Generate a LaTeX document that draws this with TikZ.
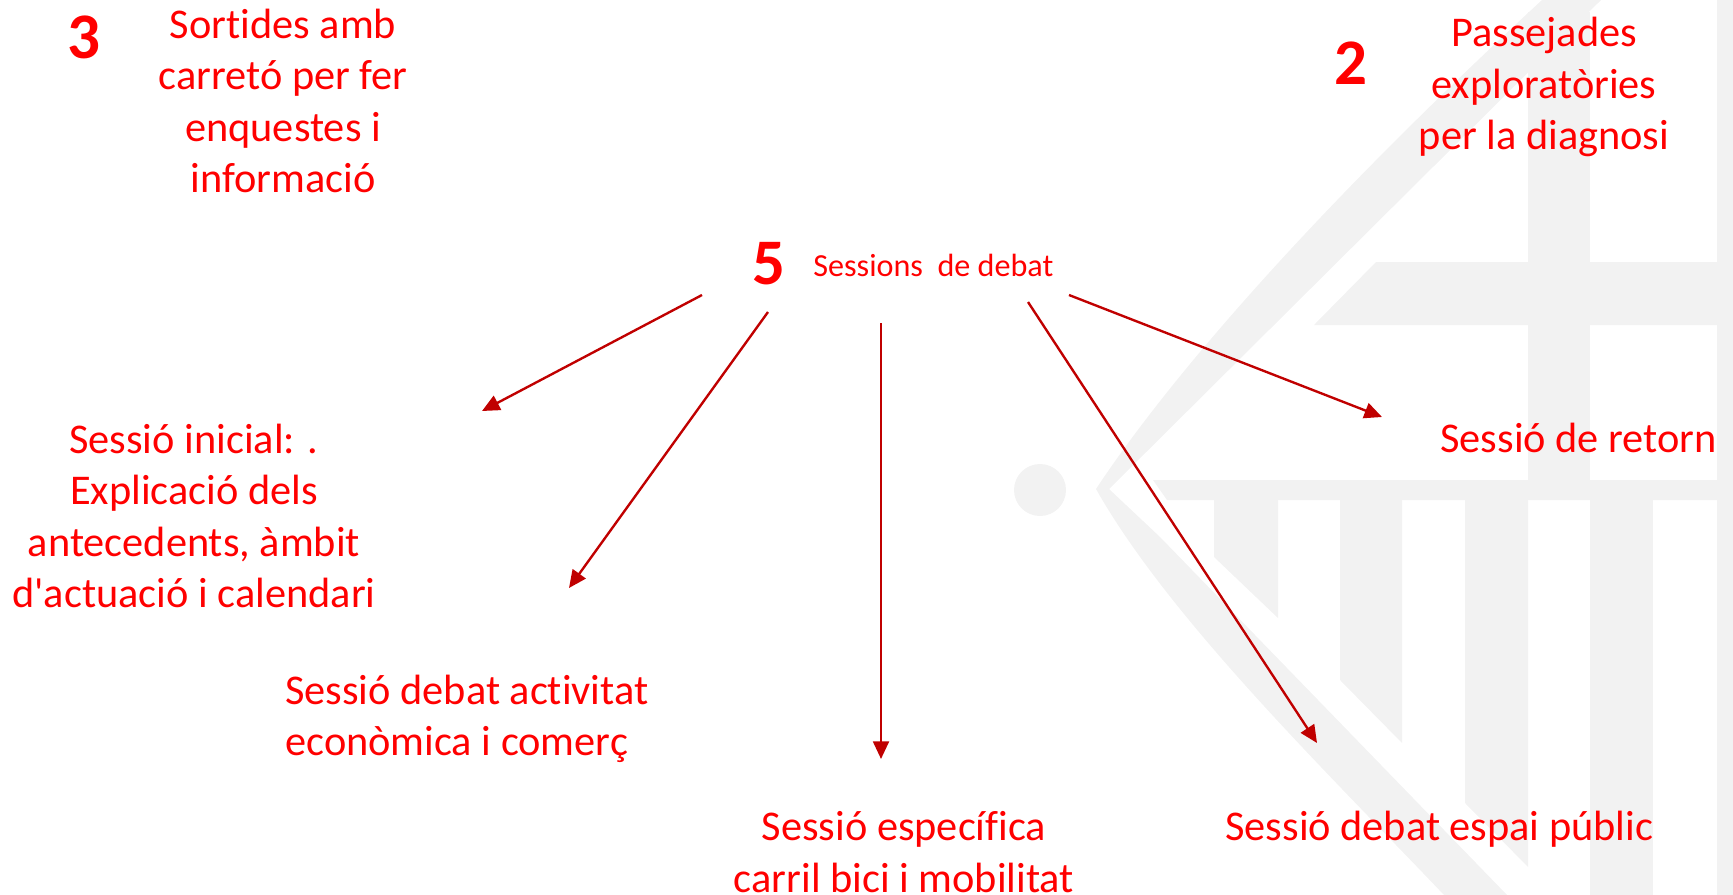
\documentclass[tikz,border=0pt]{standalone}
\usepackage{xcolor}
\usepackage{fontspec}
\newfontfamily\carlito{Carlito}[Ligatures=NoCommon]
\usetikzlibrary{arrows.meta}
\definecolor{vermell}{HTML}{FF0000}
\definecolor{fletxa}{HTML}{C00000}
\definecolor{escut}{HTML}{F2F2F2}

\begin{document}
\begin{tikzpicture}[x = 0.02cm, y = -0.02cm]
            \tikzstyle{sessio} = [inner sep = 0pt, vermell, align = center, font = \carlito\fontsize{24.1}{29.25}\selectfont];
            \tikzstyle{numero} = [inner sep = 0pt, vermell, font = \carlito\fontsize{37}{44}\selectfont\bfseries];
            \tikzstyle{titol} = [inner sep = 0pt, vermell, font = \carlito\fontsize{18.3}{22}\selectfont];
            \tikzstyle{fletxes} = [-{Triangle[length = 10pt, width = 9pt]}, fletxa, line width = 1.35pt];

            \path [use as bounding box] (0, 0) rectangle (1733, 895);

            % escut de fons
            \fill [escut] (1040, 490) circle [radius = 26];
            \fill [escut] (1096, 489) .. controls (1135, 430) and (1250, 270) .. (1542, 0) -- (1601, 0) -- (1109, 489) -- (1160, 537) -- (1507, 895) -- (1444, 895) .. controls (1330, 775) and (1170, 620) .. cycle;
            \fill [escut] (1528, 12) rectangle (1590, 480);
            \fill [escut] (1376, 262) -- (1733, 262) -- (1733, 325) -- (1314, 325) -- cycle;
            \fill [escut] (1153, 480) -- (1733, 480) -- (1733, 500) -- (1167, 500) -- cycle;
            \fill [escut] (1214, 500) -- (1278, 500) -- (1278, 618) -- (1214, 557) -- cycle;
            \fill [escut] (1340, 500) -- (1402, 500) -- (1402, 743) -- (1340, 680) -- cycle;
            \fill [escut] (1465, 500) -- (1528, 500) -- (1528, 867) -- (1465, 803) -- cycle;
            \fill [escut] (1590, 500) rectangle (1653, 895);
            \fill [escut] (1717, 0) rectangle (1733, 895);

            \node [numero] (N3) at (84, 37) {3};
            \node [sessio] (S3) at (283, 101) {Sortides amb\\carretó per fer\\enquestes i\\informació};

            \node [numero] (N2) at (1351, 63) {2};
            \node [sessio] (S2) at (1544, 87) {Passejades\\exploratòries\\per la diagnosi};

            \node [numero] (N5) at (769, 264) {5};
            \node [titol, anchor = west] (T5) at (813, 265) {Sessions \ de debat};

            \node [sessio] (S1) at (194, 516) {Sessió inicial: .\\Explicació dels\\antecedents, àmbit\\d'actuació i calendari};
            \node [sessio, align = left, anchor = west] (S4) at (285, 719) {Sessió debat activitat\\econòmica i comerç};
            \node [sessio] (S6) at (904, 852) {Sessió específica\\carril bici i mobilitat};
            \node [sessio, anchor = west] (S7) at (1225, 829) {Sessió debat espai públic};
            \node [sessio, anchor = west] (S8) at (1440, 438) {Sessió de retorn};

            \coordinate (A1) at (702, 295);
            \coordinate (B1) at (482, 411);
            \coordinate (A4) at (768, 312);
            \coordinate (B4) at (569, 588);
            \coordinate (A6) at (881, 323);
            \coordinate (B6) at (881, 759);
            \coordinate (A7) at (1028, 302);
            \coordinate (B7) at (1317, 743);
            \coordinate (A8) at (1069, 295);
            \coordinate (B8) at (1382, 417);

            \draw [fletxes] (A1) to (B1);
            \draw [fletxes] (A4) to (B4);
            \draw [fletxes] (A6) to (B6);
            \draw [fletxes] (A7) to (B7);
            \draw [fletxes] (A8) to (B8);
        \end{tikzpicture}
\end{document}
